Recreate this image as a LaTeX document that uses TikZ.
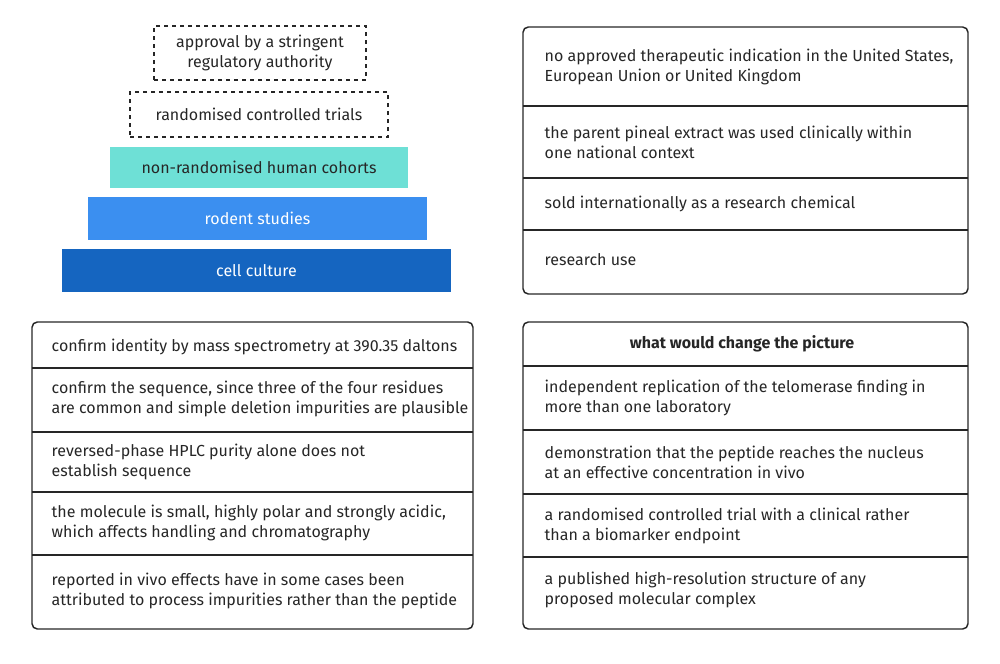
\documentclass[tikz,border=0pt]{standalone}
\usepackage{fontspec}
\setmainfont{Fira Sans}
\begin{document}
\begin{tikzpicture}[x=0.75pt,y=-0.75pt,
  every node/.style={font=\fontsize{12}{15}\selectfont, text=black!85},
  panel/.style={draw=black!85, line width=1.1pt, rounded corners=4pt},
  sep/.style={draw=black!85, line width=0.8pt},
  item/.style={anchor=west, align=left},
  tier/.style={font=\fontsize{12}{15}\selectfont, inner sep=0pt},
  dashbox/.style={draw=black!85, dashed, line width=1pt}]
\useasboundingbox (0,0) rectangle (1000,664);
% pyramid
\node[tier, dashbox, minimum width=212*0.75pt, minimum height=54*0.75pt, align=center] (p1) at (260,53) {approval by a stringent\\regulatory authority};
\node[tier, dashbox, minimum width=258*0.75pt, minimum height=45*0.75pt] (p2) at (259,114.5) {randomised controlled trials};
\node[tier, fill={rgb,255:red,110;green,224;blue,214}, minimum width=298*0.75pt, minimum height=41*0.75pt] (p3) at (259,167.5) {non-randomised human cohorts};
\node[tier, fill={rgb,255:red,59;green,143;blue,240}, text=white, minimum width=339*0.75pt, minimum height=43*0.75pt] (p4) at (257.5,218.5) {rodent studies};
\node[tier, fill={rgb,255:red,21;green,101;blue,192}, text=white, minimum width=389*0.75pt, minimum height=43*0.75pt] (p5) at (256.5,270.5) {cell culture};
% top right
\draw[panel] (523,27) rectangle (968,294);
\draw[sep] (523,106) -- (968,106) (523,178) -- (968,178) (523,230) -- (968,230);
\node[item] (a1) at (540,67) {no approved therapeutic indication in the United States,\\European Union or United Kingdom};
\node[item] (a2) at (540,142) {the parent pineal extract was used clinically within\\one national context};
\node[item] (a3) at (540,204) {sold internationally as a research chemical};
\node[item] (a4) at (540,260) {research use};
% bottom left
\draw[panel] (32,322) rectangle (473,629);
\draw[sep] (32,368) -- (473,368) (32,432) -- (473,432) (32,492) -- (473,492) (32,555) -- (473,555);
\node[item] (b1) at (47,347) {confirm identity by mass spectrometry at 390.35 daltons};
\node[item] (b2) at (47,399) {confirm the sequence, since three of the four residues\\are common and simple deletion impurities are plausible};
\node[item] (b3) at (47,462) {reversed-phase HPLC purity alone does not\\establish sequence};
\node[item] (b4) at (47,523) {the molecule is small, highly polar and strongly acidic,\\which affects handling and chromatography};
\node[item] (b5) at (47,591) {reported in vivo effects have in some cases been\\attributed to process impurities rather than the peptide};
% bottom right
\draw[panel] (523,322) rectangle (968,629);
\draw[sep] (523,366) -- (968,366) (523,430) -- (968,430) (523,494) -- (968,494) (523,557) -- (968,557);
\node[font=\fontsize{12}{15}\selectfont\bfseries] (h) at (742,344) {what would change the picture};
\node[item] (c1) at (540,398) {independent replication of the telomerase finding in\\more than one laboratory};
\node[item] (c2) at (540,462) {demonstration that the peptide reaches the nucleus\\at an effective concentration in vivo};
\node[item] (c3) at (540,526) {a randomised controlled trial with a clinical rather\\than a biomarker endpoint};
\node[item] (c4) at (540,590) {a published high-resolution structure of any\\proposed molecular complex};
\end{tikzpicture}
\end{document}
